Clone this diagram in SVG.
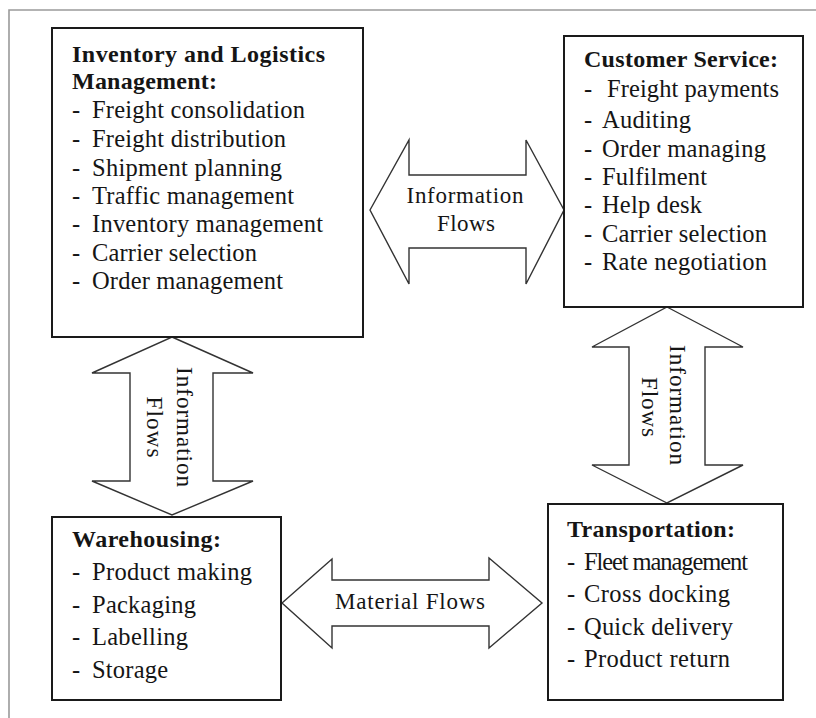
<svg xmlns="http://www.w3.org/2000/svg" width="816" height="718" viewBox="0 0 816 718">
<style>
text{font-family:"Liberation Serif","Times New Roman",serif;fill:#151515;}
.t{font-size:24px;font-weight:bold;}
.i{font-size:24.5px;}
.l{font-size:23px;}
.box{fill:#fff;stroke:#1a1a1a;stroke-width:2;}
.arr{fill:#fff;stroke:#333;stroke-width:1.4;stroke-linejoin:miter;}
.frame{fill:none;stroke:#9a9a9a;stroke-width:1.6;}
</style>
<rect width="816" height="718" fill="#fff"/>
<path class="frame" d="M9,718 V10 H816"/>
<g id="connectors">
<g id="arrow-top">
<polygon class="arr" points="370,210 409,140 409,175 526,175 526,140 564,210 526,284 526,248 409,248 409,284"/>
<text class="l" x="465" y="203" text-anchor="middle" textLength="117" lengthAdjust="spacing">Information</text>
<text class="l" x="466" y="231" text-anchor="middle" textLength="58" lengthAdjust="spacing">Flows</text>
</g>
<g id="arrow-left">
<polygon class="arr" points="172,337 253,373 213,373 213,481 253,481 172,515 92,481 130,481 130,373 92,373"/>
<text class="l" transform="translate(177,427) rotate(90)" text-anchor="middle" textLength="120" lengthAdjust="spacing">Information</text>
<text class="l" transform="translate(147,427) rotate(90)" text-anchor="middle" textLength="61" lengthAdjust="spacing">Flows</text>
</g>
<g id="arrow-right">
<polygon class="arr" points="667,307 743,347 705,347 705,465 743,465 667,503 592,465 629,465 629,347 592,347"/>
<text class="l" transform="translate(670,405) rotate(90)" text-anchor="middle" textLength="120" lengthAdjust="spacing">Information</text>
<text class="l" transform="translate(642,407) rotate(90)" text-anchor="middle" textLength="60" lengthAdjust="spacing">Flows</text>
</g>
<g id="arrow-bottom">
<polygon class="arr" points="282,603 332,559 332,580 489,580 489,558 542,603 489,648 489,626 332,626 332,648"/>
<text class="l" x="335" y="609" textLength="150" lengthAdjust="spacing">Material Flows</text>
</g>
</g>
<g id="inventory">
<rect class="box" x="52" y="28" width="311" height="309"/>
<text class="t" x="72" y="62" textLength="253" lengthAdjust="spacing">Inventory and Logistics</text>
<text class="t" x="72" y="89" textLength="145" lengthAdjust="spacing">Management:</text>
<text class="i" x="72" y="118">-</text><text class="i" x="92" y="118" textLength="213" lengthAdjust="spacing">Freight consolidation</text>
<text class="i" x="72" y="147">-</text><text class="i" x="92" y="147" textLength="194" lengthAdjust="spacing">Freight distribution</text>
<text class="i" x="72" y="176">-</text><text class="i" x="92" y="176" textLength="190" lengthAdjust="spacing">Shipment planning</text>
<text class="i" x="72" y="204">-</text><text class="i" x="92" y="204" textLength="202" lengthAdjust="spacing">Traffic management</text>
<text class="i" x="72" y="232">-</text><text class="i" x="92" y="232" textLength="231" lengthAdjust="spacing">Inventory management</text>
<text class="i" x="72" y="261">-</text><text class="i" x="92" y="261" textLength="165" lengthAdjust="spacing">Carrier selection</text>
<text class="i" x="72" y="289">-</text><text class="i" x="92" y="289" textLength="191" lengthAdjust="spacing">Order management</text>
</g>
<g id="customer-service">
<rect class="box" x="564" y="36" width="239" height="271"/>
<text class="t" x="584" y="67" textLength="194" lengthAdjust="spacing">Customer Service:</text>
<text class="i" x="584" y="97">-</text><text class="i" x="607" y="97" textLength="172" lengthAdjust="spacing">Freight payments</text>
<text class="i" x="584" y="128">-</text><text class="i" x="602" y="128" textLength="89" lengthAdjust="spacing">Auditing</text>
<text class="i" x="584" y="157">-</text><text class="i" x="602" y="157" textLength="164" lengthAdjust="spacing">Order managing</text>
<text class="i" x="584" y="185">-</text><text class="i" x="602" y="185" textLength="105" lengthAdjust="spacing">Fulfilment</text>
<text class="i" x="584" y="213">-</text><text class="i" x="602" y="213" textLength="100" lengthAdjust="spacing">Help desk</text>
<text class="i" x="584" y="242">-</text><text class="i" x="602" y="242" textLength="165" lengthAdjust="spacing">Carrier selection</text>
<text class="i" x="584" y="270">-</text><text class="i" x="602" y="270" textLength="165" lengthAdjust="spacing">Rate negotiation</text>
</g>
<g id="warehousing">
<rect class="box" x="52" y="517" width="229" height="183"/>
<text class="t" x="72" y="547" textLength="149" lengthAdjust="spacing">Warehousing:</text>
<text class="i" x="72" y="580">-</text><text class="i" x="92" y="580" textLength="160" lengthAdjust="spacing">Product making</text>
<text class="i" x="72" y="613">-</text><text class="i" x="92" y="613" textLength="104" lengthAdjust="spacing">Packaging</text>
<text class="i" x="72" y="645">-</text><text class="i" x="92" y="645" textLength="96" lengthAdjust="spacing">Labelling</text>
<text class="i" x="72" y="678">-</text><text class="i" x="92" y="678" textLength="76" lengthAdjust="spacing">Storage</text>
</g>
<g id="transportation">
<rect class="box" x="548" y="504" width="235" height="196"/>
<text class="t" x="567" y="537" textLength="168" lengthAdjust="spacing">Transportation:</text>
<text class="i" x="567" y="570">-</text><text class="i" x="584" y="570" textLength="164" lengthAdjust="spacing">Fleet management</text>
<text class="i" x="567" y="602">-</text><text class="i" x="584" y="602" textLength="146" lengthAdjust="spacing">Cross docking</text>
<text class="i" x="567" y="635">-</text><text class="i" x="584" y="635" textLength="149" lengthAdjust="spacing">Quick delivery</text>
<text class="i" x="567" y="667">-</text><text class="i" x="584" y="667" textLength="146" lengthAdjust="spacing">Product return</text>
</g>
</svg>
